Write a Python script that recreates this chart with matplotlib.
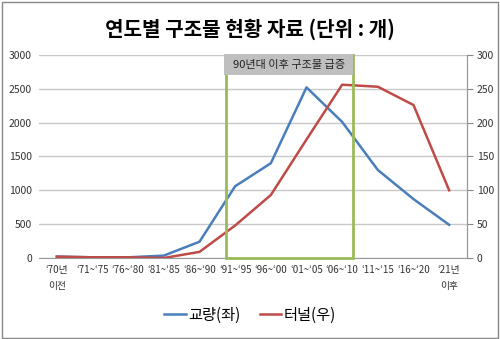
import matplotlib.pyplot as plt
from matplotlib.patches import Rectangle

plt.rcParams['font.family'] = ['Noto Sans CJK KR', 'DejaVu Sans']

# data
periods = ["‘70년\n이전", "‘71~‘75", "‘76~‘80", "‘81~‘85", "‘86~‘90", "‘91~‘95",
           "‘96~‘00", "‘01~‘05", "‘06~‘10", "‘11~‘15", "‘16~‘20", "‘21년\n이후"]
bridges = [20, 10, 10, 35, 240, 1060, 1400, 2520, 2010, 1300, 870, 490]
tunnels = [2, 1, 1, 0, 9, 48, 93, 175, 256, 253, 226, 100]

fig = plt.figure(figsize=(5, 3.39), dpi=100)
ax = fig.add_axes([0.078, 0.239, 0.856, 0.599])
ax2 = ax.twinx()

x = range(len(periods))
l1, = ax.plot(x, bridges, color='#4a7ebb', lw=1.8, label='교량(좌)')
l2, = ax2.plot(x, tunnels, color='#be4b48', lw=1.8, label='터널(우)')

ax.set_xlim(-0.5, len(periods) - 0.5)
ax.set_ylim(0, 3000)
ax2.set_ylim(0, 300)
ax.set_yticks(range(0, 3001, 500))
ax2.set_yticks(range(0, 301, 50))
ax.set_xticks(list(x))
ax.set_xticklabels(periods, fontsize=7, color='#333333', linespacing=1.7)

ax.grid(axis='y', color='#c8c8c8', lw=1)
ax.set_axisbelow(True)
ax.tick_params(axis='y', length=0, labelsize=7.5, labelcolor='#333333', pad=5)
ax.tick_params(axis='x', length=0, pad=5)
ax2.tick_params(axis='y', length=4, color='#888888', labelsize=7.5,
                labelcolor='#333333', pad=3)
for a in (ax, ax2):
    for s in ('top', 'left'):
        a.spines[s].set_visible(False)
    a.spines['right'].set_color('#999999')
ax.spines['bottom'].set_color('#999999')
ax2.spines['bottom'].set_visible(False)

# highlight box (drawn on the top axes so it sits above the baseline)
box_ax = ax2
box_ax.add_patch(Rectangle((4.75, 0), 3.55, 300, fill=False, ec='#9bbb59',
                           lw=2, zorder=5, clip_on=False))
box_ax.add_patch(Rectangle((4.7, 270), 3.6, 31, fc='#bfbfbf', ec='none',
                           zorder=6, clip_on=False))
box_ax.text(6.5, 285, '90년대 이후 구조물 급증', ha='center', va='center',
            fontsize=8, color='#222222', zorder=7)

fig.text(0.5, 0.915, '연도별 구조물 현황 자료 (단위 : 개)', ha='center',
         va='center', fontsize=14.5, fontweight='bold')

fig.legend(handles=[l1, l2], loc='center', bbox_to_anchor=(0.5, 0.07),
           ncol=2, frameon=False, fontsize=11, handlelength=1.4,
           handletextpad=0.15, columnspacing=1.3)

fig.add_artist(Rectangle((0.003, 0.004), 0.993, 0.99, transform=fig.transFigure,
                         fill=False, ec='#888888', lw=1))

fig.savefig('out.png', dpi=100)
